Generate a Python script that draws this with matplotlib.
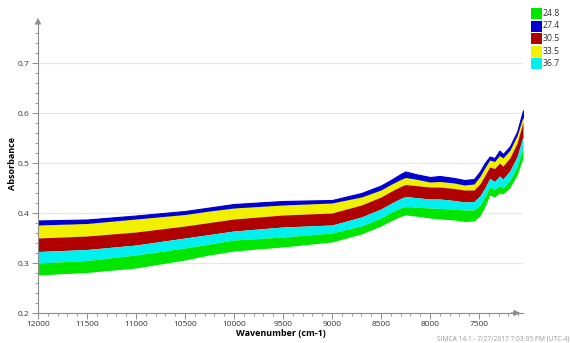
import matplotlib
matplotlib.use("Agg")
import matplotlib.pyplot as plt
from matplotlib.ticker import MultipleLocator

plt.rcParams['font.family'] = ['Open Sans', 'DejaVu Sans']

# Wavenumbers (cm-1)
wavenumber = [12000, 11500, 11000, 10500, 10250, 10000, 9500, 9000, 8700, 8500, 8400,
              8300, 8250, 8150, 8000, 7900, 7750, 7650, 7550, 7490, 7440,
              7390, 7340, 7290, 7255, 7185, 7110, 7050]

# Upper edge of each colour band (absorbance), top to bottom
upper_274 = [0.385, 0.387, 0.395, 0.404, 0.411, 0.418, 0.424, 0.426, 0.440, 0.455, 0.466,
             0.478, 0.483, 0.478, 0.472, 0.474, 0.470, 0.466, 0.468, 0.483, 0.500,
             0.513, 0.510, 0.525, 0.518, 0.533, 0.563, 0.605]
upper_335 = [0.376, 0.379, 0.388, 0.397, 0.404, 0.410, 0.416, 0.420, 0.432, 0.446, 0.457,
             0.467, 0.471, 0.468, 0.462, 0.463, 0.460, 0.456, 0.458, 0.473, 0.490,
             0.506, 0.503, 0.515, 0.510, 0.525, 0.555, 0.592]
upper_305 = [0.350, 0.354, 0.362, 0.374, 0.381, 0.388, 0.396, 0.400, 0.416, 0.432, 0.443,
             0.453, 0.457, 0.455, 0.452, 0.452, 0.449, 0.446, 0.446, 0.458, 0.475,
             0.492, 0.489, 0.500, 0.494, 0.510, 0.540, 0.582]
upper_367 = [0.323, 0.327, 0.336, 0.350, 0.357, 0.364, 0.372, 0.376, 0.392, 0.408, 0.419,
             0.429, 0.433, 0.431, 0.428, 0.428, 0.425, 0.422, 0.423, 0.434, 0.450,
             0.469, 0.463, 0.474, 0.468, 0.484, 0.513, 0.553]
upper_248 = [0.300, 0.305, 0.316, 0.330, 0.338, 0.346, 0.352, 0.360, 0.374, 0.390, 0.401,
             0.410, 0.413, 0.412, 0.410, 0.409, 0.408, 0.406, 0.406, 0.415, 0.432,
             0.452, 0.447, 0.455, 0.450, 0.465, 0.493, 0.530]
lower_248 = [0.276, 0.281, 0.290, 0.306, 0.316, 0.324, 0.332, 0.342, 0.358, 0.374, 0.384,
             0.393, 0.396, 0.394, 0.390, 0.388, 0.386, 0.383, 0.384, 0.394, 0.412,
             0.436, 0.432, 0.440, 0.438, 0.450, 0.476, 0.510]

legend_labels = ["24.8", "27.4", "30.5", "33.5", "36.7"]
legend_colors = ["#00e600", "#0000d2", "#b00000", "#f0f000", "#00f0f0"]

W, H = 570, 343
fig = plt.figure(figsize=(W / 100, H / 100), dpi=100)
ax_left, ax_right, ax_top, ax_bot = 38, 523, 15, 313
ax = fig.add_axes([ax_left / W, 1 - ax_bot / H, (ax_right - ax_left) / W, (ax_bot - ax_top) / H])

c248, c274, c305, c335, c367 = legend_colors
ax.fill_between(wavenumber, upper_335, upper_274, color=c274, lw=0.8, edgecolor=c274)
ax.fill_between(wavenumber, upper_305, upper_335, color=c335, lw=0.0)
ax.fill_between(wavenumber, upper_367, upper_305, color=c305, lw=0.0)
ax.fill_between(wavenumber, upper_248, upper_367, color=c367, lw=0.0)
ax.fill_between(wavenumber, lower_248, upper_248, color=c248, lw=0.0)

ax.set_xlim(12000, 7050)
ax.set_ylim(0.2, 0.796)

ax.xaxis.set_minor_locator(MultipleLocator(100))
ax.yaxis.set_minor_locator(MultipleLocator(0.02))
ax.set_xticks([12000, 11500, 11000, 10500, 10000, 9500, 9000, 8500, 8000, 7500])
ax.set_yticks([0.2, 0.3, 0.4, 0.5, 0.6, 0.7])
ax.set_yticklabels(["0.2", "0.3", "0.4", "0.5", "0.6", "0.7"])
ax.grid(axis='y', which='major', color='#e6e6e6', lw=0.8, zorder=0)
ax.set_axisbelow(True)

for s in ['top', 'right']:
    ax.spines[s].set_visible(False)
for s in ['left', 'bottom']:
    ax.spines[s].set_color('#8c8c8c')
    ax.spines[s].set_linewidth(0.8)
ax.spines['left'].set_bounds(0.2, 0.78)

ax.tick_params(which='major', length=4, width=0.7, color='#8c8c8c', labelsize=6, labelcolor='#333333', pad=2)
ax.tick_params(which='minor', length=2, width=0.6, color='#8c8c8c')

# axis arrows
ax.annotate('', xy=(1.0, 0), xycoords='axes fraction', xytext=(0.97, 0),
            arrowprops=dict(arrowstyle='-|>', color='#8c8c8c', lw=0.8, mutation_scale=9))
ax.annotate('', xy=(0, 1.0), xycoords='axes fraction', xytext=(0, 0.96),
            arrowprops=dict(arrowstyle='-|>', color='#8c8c8c', lw=0.8, mutation_scale=9))

ax.set_xlabel("Wavenumber (cm-1)", fontsize=6.5, fontweight='bold')
ax.set_ylabel("Absorbance", fontsize=6.5, fontweight='bold')
ax.xaxis.set_label_coords(0.5, -(334 - ax_bot) / (ax_bot - ax_top), transform=ax.transAxes)
ax.yaxis.set_label_coords(-(ax_left - 13) / (ax_right - ax_left), 0.5, transform=ax.transAxes)
ax.xaxis.label.set_va('center')
ax.yaxis.label.set_va('center')

# legend
for i, (lab, col) in enumerate(zip(legend_labels, legend_colors)):
    y = 8 + i * 12.5
    fig.patches.append(plt.Rectangle((531 / W, 1 - (y + 11) / H), 11 / W, 11 / H,
                                     transform=fig.transFigure, facecolor=col, edgecolor='none'))
    fig.text(543 / W, 1 - (y + 5.5) / H, lab, fontsize=6.3, color='#333333', va='center', ha='left')

fig.text(437 / W, 1 / H, "SIMCA 14.1 - 7/27/2017 7:03:05 PM (UTC-4)", fontsize=4.8,
         color='#9a9a9a', va='bottom', ha='left')

fig.savefig("out.png", dpi=100)
